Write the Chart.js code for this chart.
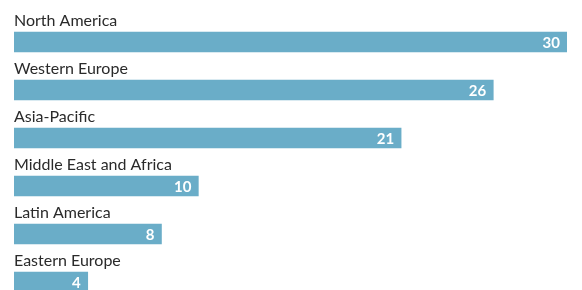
<!DOCTYPE html>
<html>
<head>
<meta charset="utf-8">
<script src="https://cdn.jsdelivr.net/npm/chart.js@4/dist/chart.umd.min.js"></script>
<style>
  html, body { margin: 0; padding: 0; background: #fff; overflow: hidden; }
  #wrap { position: relative; width: 582px; height: 290px; }
</style>
</head>
<body>
<div id="wrap"><canvas id="chart"></canvas></div>
<script>
// regions, top to bottom
const categories = ['North America', 'Western Europe', 'Asia-Pacific', 'Middle East and Africa', 'Latin America', 'Eastern Europe'];
const values = [30, 26, 21, 10, 8, 4];
const xMax = 30;

const BAR = '#6aadc8';
const TEXT = '#2a2a2a';

// category name above each bar, value inside its right end
const barLabels = {
  id: 'barLabels',
  afterDatasetsDraw(chart) {
    const ctx = chart.ctx;
    const meta = chart.getDatasetMeta(0);
    const left = chart.chartArea.left;
    ctx.save();
    meta.data.forEach((bar, i) => {
      ctx.font = '16px Lato, "Liberation Sans", sans-serif';
      ctx.fillStyle = TEXT;
      ctx.textAlign = 'left';
      ctx.textBaseline = 'alphabetic';
      ctx.fillText(categories[i], left, bar.y - 16.5);

      ctx.font = 'bold 15px Lato, "Liberation Sans", sans-serif';
      ctx.fillStyle = '#fff';
      ctx.textAlign = 'right';
      ctx.fillText(String(values[i]), bar.x - 7, bar.y + 5.5);
    });
    ctx.restore();
  }
};

new Chart(document.getElementById('chart'), {
  type: 'bar',
  data: {
    datasets: [{
      data: values.map((v, i) => ({ x: v, y: i })),
      backgroundColor: BAR,
      borderWidth: 0,
      barThickness: 20
    }]
  },
  options: {
    indexAxis: 'y',
    responsive: true,
    maintainAspectRatio: false,
    animation: false,
    layout: { padding: { left: 14, right: 15, top: 0, bottom: 0 } },
    plugins: { legend: { display: false }, tooltip: { enabled: false } },
    scales: {
      x: { type: 'linear', min: 0, max: xMax, display: false },
      // 48px per row, first bar centred at y=42
      y: {
        type: 'linear', min: -0.875, max: 5 + 8 / 48, reverse: true,
        offset: false, grid: { offset: false }, display: false
      }
    }
  },
  plugins: [barLabels]
});
</script>
</body>
</html>
